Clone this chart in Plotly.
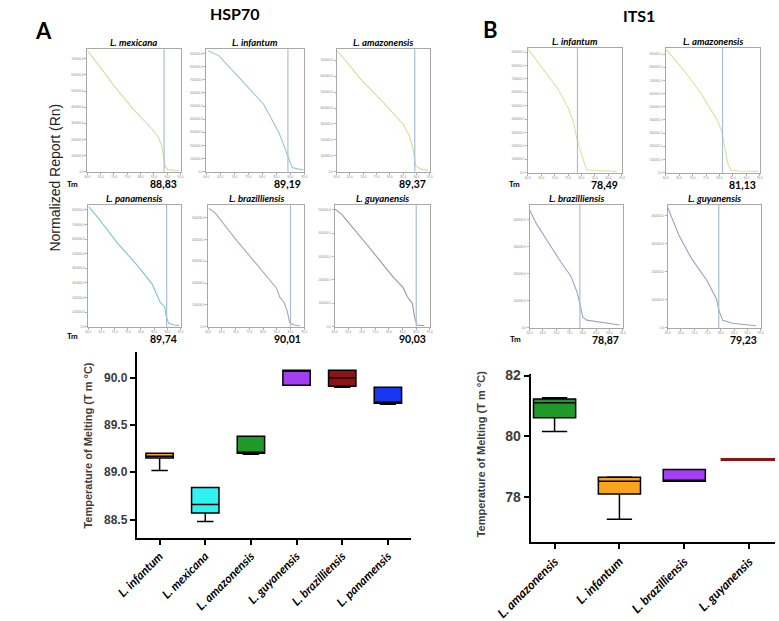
import plotly.graph_objects as go

W, H = 779, 621

# ---------------- data: melt curves (temperature, normalized reporter) ----------------
# HSP70
hsp_names = ["L. mexicana", "L. infantum", "L. amazonensis",
             "L. panamensis", "L. brazilliensis", "L. guyanensis"]
hsp_tm = [88.83, 89.19, 89.37, 89.74, 90.01, 90.03]

mex_t = [60.0, 64.2, 70.1, 77.2, 84.3, 86.7, 87.9, 88.8, 89.3, 90.2, 92.6, 94.4]
mex_rn = [751000, 663000, 531000, 388000, 265000, 214000, 163000, 82000, 31000, 14000, 8000, 4000]

inf_t = [60.6, 64.5, 72.5, 80.5, 86.1, 88.4, 89.5, 90.7, 93.0, 94.7]
inf_rn = [920000, 884000, 699000, 514000, 291000, 168000, 94000, 32000, 20000, 15000]

ama_t = [60.2, 63.6, 69.5, 77.8, 84.9, 87.3, 88.7, 89.7, 91.5, 94.4]
ama_rn = [758000, 694000, 573000, 431000, 300000, 230000, 149000, 38000, 18000, 8000]

pan_t = [60.2, 63.8, 71.0, 78.2, 84.2, 86.0, 87.2, 89.0, 89.6, 90.5, 92.6, 94.4]
pan_rn = [822000, 743000, 574000, 428000, 293000, 225000, 169000, 135000, 68000, 23000, 11000, 7000]

bra_t = [60.3, 62.7, 69.7, 76.6, 84.8, 86.2, 87.7, 88.8, 89.7, 91.2, 93.5]
bra_rn = [542000, 520000, 406000, 300000, 179000, 133000, 111000, 73000, 20000, 8000, 3000]

guy_t = [60.0, 62.7, 72.3, 81.6, 85.1, 86.8, 88.6, 89.4, 90.3, 93.0]
guy_rn = [504000, 479000, 345000, 211000, 169000, 127000, 99000, 42000, 7000, 4000]

# ITS1
its_names = ["L. infantum", "L. amazonensis", "L. brazilliensis", "L. guyanensis"]
its_tm = [78.49, 81.13, 78.87, 79.23]

i_inf_t = [60.0, 65.3, 71.2, 75.4, 77.1, 78.3, 80.1, 81.8, 84.2, 88.9, 93.1]
i_inf_rn = [927000, 785000, 627000, 468000, 370000, 249000, 127000, 22000, 17000, 15000, 10000]

i_ama_t = [60.0, 67.1, 73.0, 79.0, 80.8, 81.9, 83.1, 84.3, 87.3, 94.4]
i_ama_rn = [940000, 768000, 605000, 405000, 318000, 193000, 68000, 18000, 13000, 10000]

i_bra_t = [60.0, 62.4, 67.1, 71.9, 75.4, 77.8, 79.0, 79.9, 81.4, 87.3, 93.8]
i_bra_rn = [437000, 388000, 315000, 241000, 193000, 132000, 83000, 40000, 28000, 20000, 10000]

i_guy_t = [60.0, 64.2, 68.9, 74.9, 78.4, 79.3, 80.7, 84.3, 93.2]
i_guy_rn = [432000, 332000, 249000, 167000, 102000, 61000, 26000, 16000, 7000]

temp_ticks = [60, 65, 70, 75, 80, 85, 90, 95]

# ---------------- data: box plots (Tm, °C) ----------------
boxA_cats = ["L. infantum", "L. mexicana", "L. amazonensis",
             "L. guyanensis", "L. brazilliensis", "L. panamensis"]
boxA_low = [89.02, 88.48, 89.19, 89.92, 89.90, 89.72]
boxA_q1 = [89.15, 88.57, 89.20, 89.92, 89.91, 89.73]
boxA_med = [89.17, 88.66, 89.20, 90.08, 90.00, 89.74]
boxA_q3 = [89.20, 88.84, 89.38, 90.08, 90.08, 89.90]
boxA_high = [89.20, 88.84, 89.38, 90.08, 90.08, 89.90]
boxA_colors = ["#F8A41E", "#2FF3F3", "#1E9A28", "#A33EF2", "#8C1414", "#1638F2"]

boxB_cats = ["L. amazonensis", "L. infantum", "L. brazilliensis", "L. guyanensis"]
boxB_low = [80.16, 77.26, 78.52, 79.23]
boxB_q1 = [80.61, 78.10, 78.52, 79.23]
boxB_med = [81.10, 78.52, 78.52, 79.23]
boxB_q3 = [81.23, 78.65, 78.90, 79.23]
boxB_high = [81.27, 78.66, 78.90, 79.23]
boxB_colors = ["#1E9A28", "#F8A41E", "#A33EF2", "#8C1414"]

# ---------------- helpers ----------------
def xd(a, b):
    return [a / W, b / W]

def yd(top, bottom):
    return [1 - bottom / H, 1 - top / H]

def px(x):
    return x / W

def py(y):
    return 1 - y / H

def ax(i):
    return ("x", "y") if i == 1 else ("x%d" % i, "y%d" % i)

def axkey(i):
    return ("xaxis", "yaxis") if i == 1 else ("xaxis%d" % i, "yaxis%d" % i)

CAL = "Lato, Open Sans, sans-serif"
ARI = "Liberation Sans, Arial, sans-serif"

fig = go.Figure()
layout = dict(width=W, height=H, margin=dict(l=0, r=0, t=0, b=0),
              paper_bgcolor="white", plot_bgcolor="white", showlegend=False)
annotations = []
shapes = []

# mini panels: (title, temps, rn, colour, tm, xpix, ypix, ymax, ytop_tick)
panels = [
    (hsp_names[0], mex_t, mex_rn, "#D3DCA2", hsp_tm[0], (55, 153), (44, 169), 760000, 700000),
    (hsp_names[1], inf_t, inf_rn, "#9CC2D6", hsp_tm[1], (180, 283), (44, 169), 933000, 900000),
    (hsp_names[2], ama_t, ama_rn, "#DADA98", hsp_tm[2], (317, 415), (44, 169), 770000, 700000),
    (hsp_names[3], pan_t, pan_rn, "#7CC5CF", hsp_tm[3], (56, 153), (203, 327), 833000, 800000),
    (hsp_names[4], bra_t, bra_rn, "#B69EBF", hsp_tm[4], (182, 283), (203, 327), 558000, 500000),
    (hsp_names[5], guy_t, guy_rn, "#9B8EB6", hsp_tm[5], (315, 415), (203, 327), 520000, 500000),
    (its_names[0], i_inf_t, i_inf_rn, "#E2DFA4", its_tm[0], (518, 617), (43, 170), 930000, 900000),
    (its_names[1], i_ama_t, i_ama_rn, "#DFDE9E", its_tm[1], (663, 762), (43, 170), 945000, 900000),
    (its_names[2], i_bra_t, i_bra_rn, "#98A5C8", its_tm[2], (520, 618), (203, 328), 455000, 400000),
    (its_names[3], i_guy_t, i_guy_rn, "#96A3C4", its_tm[3], (665, 763), (203, 328), 439000, 400000),
]

for i, (title, t, rn, col, tm, xp, yp, ymax, ytop) in enumerate(panels, start=1):
    xa, ya = ax(i)
    kx, ky = axkey(i)
    fig.add_trace(go.Scatter(x=t, y=rn, mode="lines", line=dict(color=col, width=1.1),
                             xaxis=xa, yaxis=ya, hoverinfo="skip"))
    layout[kx] = dict(domain=xd(*xp), anchor=ya, range=[60, 95],
                      tickvals=temp_ticks, tickformat=".1f",
                      showline=True, mirror=True, linecolor="#A8A8A8", linewidth=1,
                      ticks="outside", ticklen=2, tickcolor="#B0B0B0",
                      tickfont=dict(size=3, color="#8A8A8A", family=ARI),
                      showgrid=False, zeroline=False)
    layout[ky] = dict(domain=yd(*yp), anchor=xa, range=[0, ymax],
                      tickvals=list(range(0, ytop + 1, 100000)), tickformat=".1f",
                      showline=True, mirror=True, linecolor="#A8A8A8", linewidth=1,
                      ticks="outside", ticklen=2, tickcolor="#B0B0B0",
                      tickfont=dict(size=3, color="#8A8A8A", family=ARI),
                      showgrid=False, zeroline=False)
    shapes.append(dict(type="line", xref=xa, yref=ya + " domain", x0=tm, x1=tm, y0=0, y1=1,
                       line=dict(color="#A9BED2", width=1.2)))
    annotations.append(dict(text="<b><i>%s</i></b>" % title, x=px((xp[0] + xp[1]) / 2),
                            y=py(yp[0] - 7), xref="paper", yref="paper", showarrow=False,
                            xanchor="center", yanchor="middle",
                            font=dict(size=9.5, family=CAL, color="black")))
    annotations.append(dict(text="<b>%s</b>" % ("%.2f" % tm).replace(".", ","),
                            x=px(xp[1] - 18), y=py(yp[1] + 13), xref="paper", yref="paper",
                            showarrow=False, xanchor="center", yanchor="middle",
                            font=dict(size=10.5, family=CAL, color="black")))

# "Tm" labels
for (x, y) in [(39, 182), (39, 336), (504, 182), (505, 340)]:
    annotations.append(dict(text="<b>Tm</b>", x=px(x), y=py(y), xref="paper", yref="paper",
                            showarrow=False, xanchor="center", yanchor="middle",
                            font=dict(size=8, family=CAL, color="black")))

# ---------------- box plots ----------------
for j, c in enumerate(boxA_cats):
    fig.add_trace(go.Box(x=[c], q1=[boxA_q1[j]], median=[boxA_med[j]], q3=[boxA_q3[j]],
                         lowerfence=[boxA_low[j]], upperfence=[boxA_high[j]],
                         fillcolor=boxA_colors[j], line=dict(color="black", width=1.5),
                         width=0.6, whiskerwidth=0.6, boxpoints=False,
                         xaxis="x11", yaxis="y11", hoverinfo="skip"))
for j, c in enumerate(boxB_cats):
    single = boxB_q1[j] == boxB_q3[j]
    fig.add_trace(go.Box(x=[c], q1=[boxB_q1[j]], median=[boxB_med[j]], q3=[boxB_q3[j]],
                         lowerfence=[boxB_low[j]], upperfence=[boxB_high[j]],
                         fillcolor=boxB_colors[j],
                         line=dict(color=boxB_colors[j] if single else "black",
                                   width=3 if single else 1.5),
                         width=0.88 if single else 0.65, whiskerwidth=0.6, boxpoints=False,
                         xaxis="x12", yaxis="y12", hoverinfo="skip"))

box_x = dict(showline=True, linecolor="black", linewidth=2, ticks="outside", ticklen=5,
             tickwidth=1.5, tickcolor="black", tickangle=-45, showgrid=False, zeroline=False,
             type="category")
box_y = dict(showline=True, linecolor="black", linewidth=2, ticks="outside", ticklen=5,
             tickwidth=2, tickcolor="black", showgrid=False, zeroline=False)

layout["xaxis11"] = dict(box_x, domain=xd(107, 395), anchor="y11", range=[-0.5, 5.5],
                         categoryorder="array", categoryarray=boxA_cats,
                         tickfont=dict(size=12, family=CAL, color="black", weight="bold", style="italic"))
layout["yaxis11"] = dict(box_y, domain=yd(353, 542), anchor="x11", range=[88.31, 90.27],
                         tickvals=[88.5, 89.0, 89.5, 90.0], tickformat=".1f",
                         tickfont=dict(size=12, family=ARI, color="#3C3C3C", weight="bold"))
layout["xaxis12"] = dict(box_x, domain=xd(521, 778), anchor="y12", range=[-0.37, 3.4],
                         categoryorder="array", categoryarray=boxB_cats,
                         tickfont=dict(size=12.5, family=CAL, color="black", weight="bold", style="italic"))
layout["yaxis12"] = dict(box_y, domain=yd(375, 547), anchor="x12", range=[76.5, 82.06],
                         tickvals=[78, 80, 82],
                         tickfont=dict(size=14, family=ARI, color="#3C3C3C", weight="bold"))

# ---------------- headings and axis titles ----------------
extra = [
    dict(text="<b>HSP70</b>", x=px(210), y=py(8), font=dict(size=16, family=CAL, color="black")),
    dict(text="<b>ITS1</b>", x=px(635), y=py(10), font=dict(size=16, family=CAL, color="black")),
    dict(text="<b>A</b>", x=px(9), y=py(25), font=dict(size=22, family=CAL, color="black")),
    dict(text="<b>B</b>", x=px(479), y=py(24), font=dict(size=22, family=CAL, color="black")),
    dict(text="Normalized Report (Rn)", x=px(21), y=py(175), textangle=-90,
         font=dict(size=14, family=ARI, color="#222222")),
    dict(text="<b>Temperature of Melting (T m °C)</b>", x=px(56), y=py(448), textangle=-90,
         font=dict(size=11, family=ARI, color="#3C3C3C")),
    dict(text="<b>Temperature of Melting (T m °C)</b>", x=px(469), y=py(457), textangle=-90,
         font=dict(size=11, family=ARI, color="#3C3C3C")),
]
for a in extra:
    a.update(xref="paper", yref="paper", showarrow=False, xanchor="center", yanchor="middle")
annotations += extra

layout["annotations"] = annotations
layout["shapes"] = shapes
layout["boxmode"] = "overlay"
fig.update_layout(**layout)

fig.write_html("out.html", config={"displayModeBar": False},
               post_script="document.body.style.margin='0';")
